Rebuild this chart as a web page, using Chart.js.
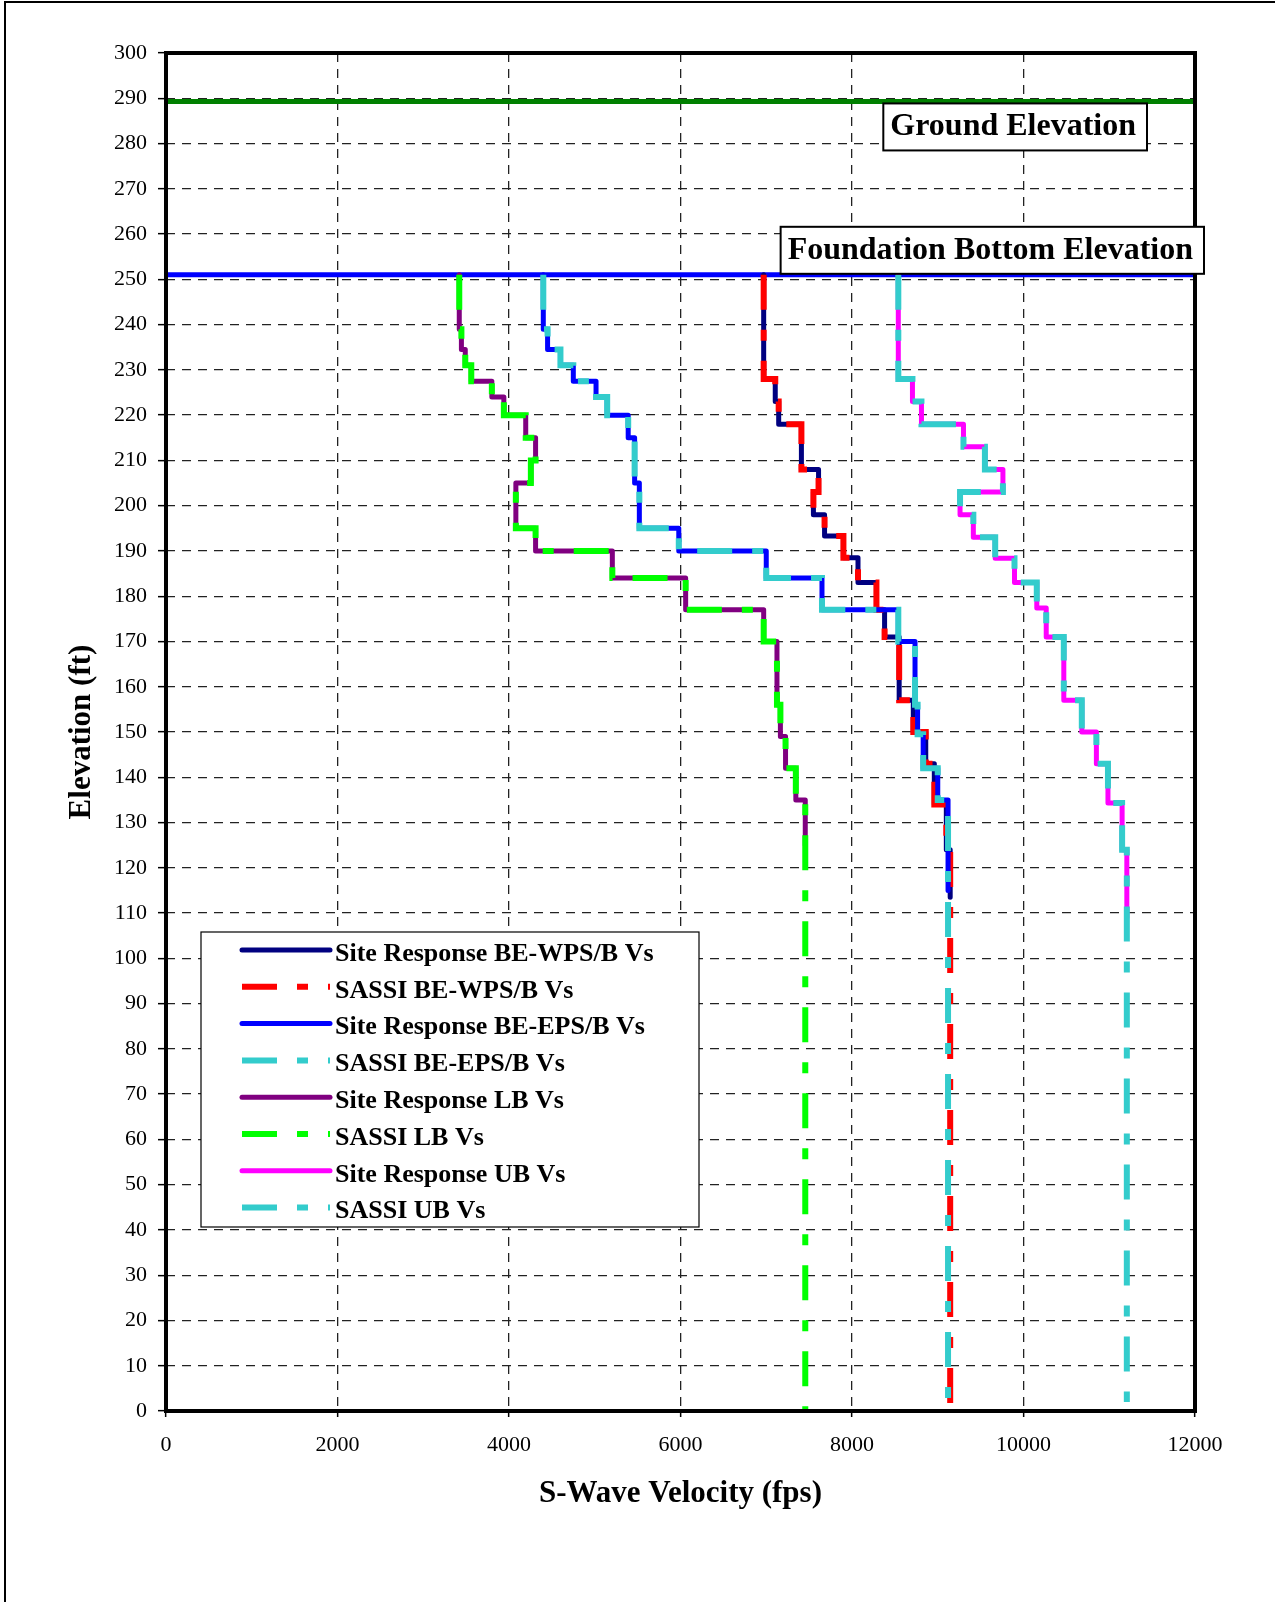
<!DOCTYPE html>
<html>
<head>
<meta charset="utf-8">
<title>S-Wave Velocity Profiles</title>
<script src="https://cdn.jsdelivr.net/npm/chart.js@4.4.1/dist/chart.umd.min.js"></script>
<style>
  html, body { margin: 0; padding: 0; background: #fff; overflow: hidden; }
  #wrap { position: relative; width: 1275px; height: 1602px; }
  #vsChart { position: absolute; left: 0; top: 0; }
  #frame { position: absolute; left: 4px; top: 1px; width: 1300px; height: 1700px; border: 2px solid #000; pointer-events: none; }
</style>
</head>
<body>
<div id="wrap">
  <canvas id="vsChart" width="1275" height="1602"></canvas>
  <div id="frame"></div>
</div>
<script>
// Layer tops (elevation, ft) and shear-wave velocity of each layer (fps)
const wpsTop = [251, 228, 223, 218, 208, 203, 198, 193.3, 188.5, 183, 177, 171, 157, 150, 143, 134, 124];
const wpsVs  = [6970, 7105, 7145, 7410, 7610, 7550, 7680, 7900, 8070, 8285, 8380, 8550, 8715, 8860, 8960, 9100, 9145];

const epsTop = [251, 239, 234.5, 231, 227.5, 224, 220, 215, 205, 195, 190, 184, 177, 170, 156, 149.5, 142, 135];
const epsVs  = [4400, 4450, 4600, 4750, 5015, 5145, 5390, 5465, 5520, 5980, 7000, 7650, 8540, 8735, 8765, 8830, 9000, 9120];

const lbTop = [251, 239, 234.5, 231, 227.5, 224, 220, 215, 210, 205, 195, 190, 184, 177, 170, 156, 149, 142, 135];
const lbVs  = [3420, 3445, 3490, 3560, 3800, 3940, 4195, 4310, 4255, 4080, 4310, 5205, 6060, 6970, 7125, 7165, 7225, 7345, 7455];

const ubTop = [251, 228, 223, 218, 213, 208, 203, 198, 193, 188.4, 183, 177.4, 171, 157, 150, 143, 134.3, 124];
const ubVs  = [8540, 8705, 8810, 9300, 9550, 9760, 9260, 9415, 9670, 9895, 10155, 10265, 10470, 10680, 10850, 10985, 11150, 11205];

// where each profile stops (ft)
const siteBottom  = { wps: 113.5, eps: 115, lb: 125, ub: 109 };
const sassiBottom = { wps: 0, eps: 0, lb: 0, ub: 2 };

const groundElev = 289.3;
const foundationElev = 251;

const velRange = [0, 12000];
const velStep = 2000;
const elevRange = [0, 300];
const elevStep = 10;

const SERIF = "'Liberation Serif', 'Times New Roman', serif";
const SASSI_DASH = [35, 20, 11, 20];

function profile(tops, vs, bottom) {
    const pts = tops.map((t, i) => ({ x: vs[i], y: t }));
    pts.push({ x: vs[vs.length - 1], y: bottom });
    return pts;
}

function siteSeries(label, color, tops, vs, bottom) {
    return {
        label, data: profile(tops, vs, bottom),
        borderColor: color, backgroundColor: color, borderWidth: 5,
        stepped: 'after', pointRadius: 0, fill: false,
        borderJoinStyle: 'round', borderCapStyle: 'round'
    };
}

function sassiSeries(label, color, tops, vs, bottom) {
    return {
        label, data: profile(tops, vs, bottom),
        borderColor: color, backgroundColor: color, borderWidth: 6,
        borderDash: SASSI_DASH, stepped: 'after', pointRadius: 0, fill: false,
        borderJoinStyle: 'miter', borderCapStyle: 'butt'
    };
}

function levelLine(label, color, elev) {
    return {
        label, data: [{ x: velRange[0], y: elev }, { x: velRange[1], y: elev }],
        borderColor: color, borderWidth: 5, pointRadius: 0, fill: false
    };
}

const profiles = [
    siteSeries('Site Response BE-WPS/B Vs', '#000080', wpsTop, wpsVs, siteBottom.wps),
    sassiSeries('SASSI BE-WPS/B Vs', '#FF0000', wpsTop, wpsVs, sassiBottom.wps),
    siteSeries('Site Response BE-EPS/B Vs', '#0000FF', epsTop, epsVs, siteBottom.eps),
    sassiSeries('SASSI BE-EPS/B Vs', '#33CCCC', epsTop, epsVs, sassiBottom.eps),
    siteSeries('Site Response LB Vs', '#800080', lbTop, lbVs, siteBottom.lb),
    sassiSeries('SASSI LB Vs', '#00FF00', lbTop, lbVs, sassiBottom.lb),
    siteSeries('Site Response UB Vs', '#FF00FF', ubTop, ubVs, siteBottom.ub),
    sassiSeries('SASSI UB Vs', '#33CCCC', ubTop, ubVs, sassiBottom.ub)
];

const datasets = [
    levelLine('Ground Elevation', '#008000', groundElev),
    levelLine('Foundation Bottom Elevation', '#0000FF', foundationElev),
    ...profiles
];
// later series are painted over earlier ones
datasets.forEach((d, i) => { d.order = datasets.length - i; });

function tagBox(ctx, text, right, top, height) {
    ctx.font = 'bold 32px ' + SERIF;
    const w = ctx.measureText(text).width + 18;
    const left = right - w;
    ctx.fillStyle = '#fff';
    ctx.fillRect(left, top, w, height);
    ctx.lineWidth = 2;
    ctx.strokeStyle = '#000';
    ctx.strokeRect(left, top, w, height);
    ctx.fillStyle = '#000';
    ctx.textAlign = 'left';
    ctx.textBaseline = 'alphabetic';
    ctx.fillText(text, left + 7, top + height - 15);
}

const decorations = {
    id: 'decorations',
    afterDraw(chart) {
        const { ctx, chartArea: a, scales } = chart;
        const y = scales.y;
        ctx.save();

        // plot frame
        ctx.lineWidth = 4;
        ctx.strokeStyle = '#000';
        ctx.strokeRect(a.left, a.top, a.right - a.left, a.bottom - a.top);

        // legend box
        const lx = a.left + 35, ly = a.top + 879, lw = 498, lh = 295;
        ctx.fillStyle = '#fff';
        ctx.fillRect(lx, ly, lw, lh);
        ctx.lineWidth = 1.2;
        ctx.strokeRect(lx, ly, lw, lh);
        ctx.font = 'bold 26px ' + SERIF;
        ctx.textAlign = 'left';
        ctx.textBaseline = 'alphabetic';
        profiles.forEach((d, i) => {
            const cy = ly + 18 + i * 36.8;
            ctx.save();
            ctx.strokeStyle = d.borderColor;
            ctx.lineWidth = d.borderWidth;
            ctx.setLineDash(d.borderDash || []);
            ctx.lineCap = d.borderDash ? 'butt' : 'round';
            ctx.beginPath();
            ctx.moveTo(lx + 41, cy);
            ctx.lineTo(lx + 129, cy);
            ctx.stroke();
            ctx.restore();
            ctx.fillStyle = '#000';
            ctx.fillText(d.label, lx + 134, cy + 10.7);
        });

        // elevation tags
        tagBox(ctx, 'Ground Elevation', a.right - 48, y.getPixelForValue(groundElev) + 2, 47);
        tagBox(ctx, 'Foundation Bottom Elevation', a.right + 9, y.getPixelForValue(foundationElev) - 48, 47);

        ctx.restore();
    }
};

const tickFont = { family: SERIF, size: 22 };
const titleFont = { family: SERIF, size: 31, weight: 'bold' };
const gridBase = { color: '#222', lineWidth: 1.3, tickColor: '#000', tickWidth: 1.5, tickBorderDash: [] };

new Chart(document.getElementById('vsChart'), {
    type: 'line',
    data: { datasets },
    options: {
        responsive: false,
        animation: false,
        layout: { padding: { top: 53, right: 80, bottom: 0, left: 0 } },
        plugins: { legend: { display: false }, tooltip: { enabled: false } },
        scales: {
            x: {
                type: 'linear', min: velRange[0], max: velRange[1], offset: false,
                ticks: {
                    stepSize: velStep, color: '#000', font: tickFont, padding: 15, maxRotation: 0, autoSkip: false,
                    callback: (v) => String(v)
                },
                grid: { ...gridBase, tickLength: 6 },
                border: { display: false, dash: [9, 7] },
                title: { display: true, text: 'S-Wave Velocity (fps)', color: '#000', font: titleFont, padding: { top: 0, bottom: 89 } },
                afterFit(scale) { scale.height = 191; }
            },
            y: {
                type: 'linear', min: elevRange[0], max: elevRange[1],
                ticks: { stepSize: elevStep, color: '#000', font: tickFont, padding: 11, autoSkip: false },
                grid: { ...gridBase, tickLength: 8 },
                border: { display: false, dash: [9, 7] },
                title: { display: true, text: 'Elevation (ft)', color: '#000', font: titleFont, padding: { top: 63, bottom: 0 } },
                afterFit(scale) { scale.width = 166; }
            }
        }
    },
    plugins: [decorations]
});
</script>
</body>
</html>
